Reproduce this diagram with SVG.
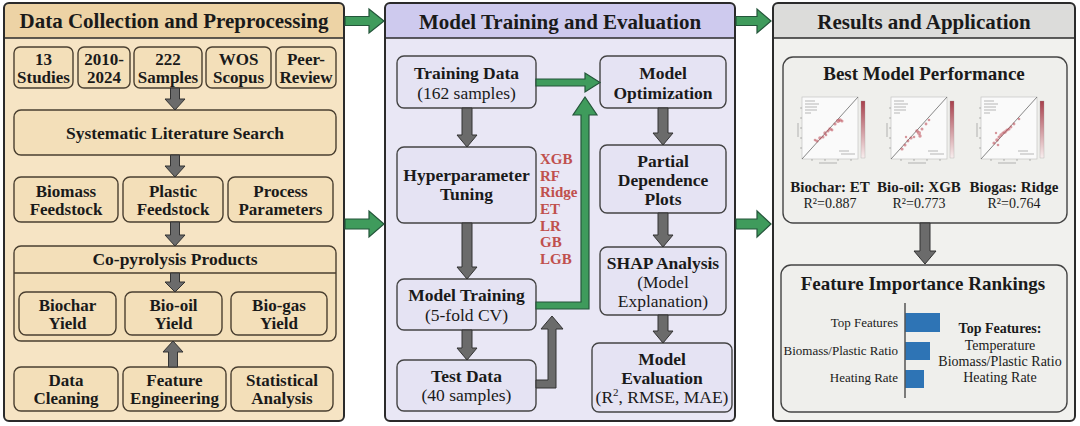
<svg xmlns="http://www.w3.org/2000/svg" width="1080" height="426" viewBox="0 0 1080 426">
<defs>
<style>
text{font-family:'Liberation Serif','DejaVu Serif',serif;fill:#1a1a1a}
.hd{font-size:21px;font-weight:bold;text-anchor:middle}
.b{font-size:17px;font-weight:bold;text-anchor:middle}
.b18{font-size:17.5px;font-weight:bold;text-anchor:middle}
.r18{font-size:17.5px;text-anchor:middle}
.t19{font-size:19px;font-weight:bold;text-anchor:middle}
.red{font-size:15px;font-weight:bold;fill:#C0504D}
.lb{font-size:15px;font-weight:bold;text-anchor:middle}
.r14{font-size:14px;text-anchor:middle}
.fl{font-size:13px;text-anchor:end}
.pan{fill:none;stroke:#2b2b2b;stroke-width:2}
.lbx{fill:#F3DFB9;stroke:#4a3f30;stroke-width:1.4}
.mbx{fill:#E5E3F3;stroke:#444;stroke-width:1.4}
.rbx{fill:#EFEFEC;stroke:#444;stroke-width:1.4}
.ga{fill:#6B6B6B;stroke:#333;stroke-width:1}
.gr{fill:#3F9B5C;stroke:#24553A;stroke-width:1.2}
.dot{fill:#B9434F;fill-opacity:0.55}
</style>
<linearGradient id="cbar" x1="0" y1="0" x2="0" y2="1">
<stop offset="0" stop-color="#A8404C"/>
<stop offset="1" stop-color="#F8EEEE"/>
</linearGradient>
<g id="chartbase">
<rect x="7" y="4" width="56" height="62" fill="#FAFAFA" stroke="#BDBDBD" stroke-width="0.6"/>
<line x1="7" y1="66" x2="63" y2="4" stroke="#555" stroke-width="0.7"/>
<rect x="66" y="8" width="4" height="57" fill="url(#cbar)" stroke="#999" stroke-width="0.3"/>
<path d="M10,8 h10 M10,11 h14 M10,14 h12 M10,17 h12 M10,20 h6 M44,58 h10 M46,61 h14 M3,30 v14 M24,70 h18" stroke="#9a9a9a" stroke-width="0.7"/>
<path d="M7,15 h-2 M7,25 h-2 M7,35 h-2 M7,45 h-2 M7,55 h-2 M17,66 v2 M30,66 v2 M43,66 v2 M56,66 v2" stroke="#777" stroke-width="0.5"/>
</g>
</defs>

<rect width="1080" height="426" fill="#FFFFFF"/>

<!-- Panel 1 -->
<g id="panel-data">
<rect x="4" y="3" width="340" height="418" rx="5" fill="#F6E4C4"/>
<path d="M4,38 V8 Q4,3 9,3 H339 Q344,3 344,8 V38 Z" fill="#EDD3A5"/>
<rect x="4" y="3" width="340" height="418" rx="5" class="pan"/>
<line x1="4" y1="38" x2="344" y2="38" stroke="#2b2b2b" stroke-width="1.6"/>
<text class="hd" x="174" y="28">Data Collection and Preprocessing</text>
</g>

<g id="n-studies"><rect class="lbx" x="14" y="47" width="59" height="41" rx="6"/><text class="b" x="43.5" y="65">13</text><text class="b" x="43.5" y="83">Studies</text></g>
<g id="n-years"><rect class="lbx" x="78" y="47" width="52" height="41" rx="6"/><text class="b" x="104" y="65">2010-</text><text class="b" x="104" y="83">2024</text></g>
<g id="n-samples"><rect class="lbx" x="134" y="47" width="68" height="41" rx="6"/><text class="b" x="168" y="65">222</text><text class="b" x="168" y="83">Samples</text></g>
<g id="n-wos"><rect class="lbx" x="206" y="47" width="65" height="41" rx="6"/><text class="b" x="238.5" y="65">WOS</text><text class="b" x="238.5" y="83">Scopus</text></g>
<g id="n-peer"><rect class="lbx" x="276" y="47" width="60" height="41" rx="6"/><text class="b" x="306" y="65">Peer-</text><text class="b" x="306" y="83">Review</text></g>

<g id="n-search"><rect class="lbx" x="14" y="110" width="322" height="45" rx="7"/><text class="b18" x="175" y="139">Systematic Literature Search</text></g>

<g id="n-biomass"><rect class="lbx" x="14" y="177" width="104" height="45" rx="7"/><text class="b" x="66" y="197">Biomass</text><text class="b" x="66" y="215">Feedstock</text></g>
<g id="n-plastic"><rect class="lbx" x="123" y="177" width="100" height="45" rx="7"/><text class="b" x="173" y="197">Plastic</text><text class="b" x="173" y="215">Feedstock</text></g>
<g id="n-process"><rect class="lbx" x="228" y="177" width="105" height="45" rx="7"/><text class="b" x="280.5" y="197">Process</text><text class="b" x="280.5" y="215">Parameters</text></g>

<g id="n-products"><rect class="lbx" x="14" y="246" width="322" height="95" rx="7"/><line x1="14" y1="273" x2="336" y2="273" stroke="#4a3f30" stroke-width="1.4"/><text class="b18" x="175" y="265">Co-pyrolysis Products</text></g>
<g id="n-biochar"><rect class="lbx" x="19" y="292" width="97" height="43" rx="7"/><text class="b" x="67.5" y="311">Biochar</text><text class="b" x="67.5" y="329">Yield</text></g>
<g id="n-biooil"><rect class="lbx" x="125" y="292" width="97" height="43" rx="7"/><text class="b" x="173.5" y="311">Bio-oil</text><text class="b" x="173.5" y="329">Yield</text></g>
<g id="n-biogas"><rect class="lbx" x="231" y="292" width="96" height="43" rx="7"/><text class="b" x="279" y="311">Bio-gas</text><text class="b" x="279" y="329">Yield</text></g>

<g id="n-cleaning"><rect class="lbx" x="14" y="367" width="104" height="44" rx="7"/><text class="b" x="66" y="386">Data</text><text class="b" x="66" y="404">Cleaning</text></g>
<g id="n-feature"><rect class="lbx" x="123" y="367" width="103" height="44" rx="7"/><text class="b" x="174.5" y="386">Feature</text><text class="b" x="174.5" y="404">Engineering</text></g>
<g id="n-stats"><rect class="lbx" x="231" y="367" width="102" height="44" rx="7"/><text class="b" x="282" y="386">Statistical</text><text class="b" x="282" y="404">Analysis</text></g>

<!-- Panel 2 -->
<g id="panel-model">
<rect x="385" y="3" width="350" height="418" rx="5" fill="#E9E7F5"/>
<path d="M385,38 V8 Q385,3 390,3 H730 Q735,3 735,8 V38 Z" fill="#CECAEE"/>
<rect x="385" y="3" width="350" height="418" rx="5" class="pan"/>
<line x1="385" y1="38" x2="735" y2="38" stroke="#2b2b2b" stroke-width="1.6"/>
<text class="hd" x="560" y="29">Model Training and Evaluation</text>
</g>

<g id="n-train"><rect class="mbx" x="397" y="56" width="139" height="52" rx="7"/><text class="b18" x="466.5" y="79">Training Data</text><text class="r18" x="466.5" y="99">(162 samples)</text></g>
<g id="n-hyper"><rect class="mbx" x="397" y="147" width="139" height="76" rx="7"/><text class="b18" x="466.5" y="181">Hyperparameter</text><text class="b18" x="466.5" y="200">Tuning</text></g>
<g id="n-models">
<text class="red" x="540" y="164">XGB</text>
<text class="red" x="540" y="181">RF</text>
<text class="red" x="540" y="197">Ridge</text>
<text class="red" x="540" y="214">ET</text>
<text class="red" x="540" y="231">LR</text>
<text class="red" x="540" y="247">GB</text>
<text class="red" x="540" y="264">LGB</text>
</g>
<g id="n-mtrain"><rect class="mbx" x="397" y="279" width="139" height="51" rx="7"/><text class="b18" x="466.5" y="301">Model Training</text><text class="r18" x="466.5" y="321">(5-fold CV)</text></g>
<g id="n-test"><rect class="mbx" x="397" y="360" width="139" height="51" rx="7"/><text class="b18" x="466.5" y="382">Test Data</text><text class="r18" x="466.5" y="401">(40 samples)</text></g>
<g id="n-opt"><rect class="mbx" x="600" y="56" width="126" height="52" rx="7"/><text class="b18" x="663" y="79">Model</text><text class="b18" x="663" y="99">Optimization</text></g>
<g id="n-pdp"><rect class="mbx" x="600" y="145" width="126" height="68" rx="7"/><text class="b18" x="663" y="167">Partial</text><text class="b18" x="663" y="186">Dependence</text><text class="b18" x="663" y="205">Plots</text></g>
<g id="n-shap"><rect class="mbx" x="600" y="247" width="126" height="68" rx="7"/><text class="b18" x="663" y="269">SHAP Analysis</text><text class="r18" x="663" y="288">(Model</text><text class="r18" x="663" y="307">Explanation)</text></g>
<g id="n-eval"><rect class="mbx" x="592" y="343" width="140" height="69" rx="7"/><text class="b18" x="662" y="365">Model</text><text class="b18" x="662" y="384">Evaluation</text><text class="r18" x="662" y="403">(R<tspan font-size="11" dy="-7">2</tspan><tspan dy="7">, RMSE, MAE)</tspan></text></g>

<!-- Panel 3 -->
<g id="panel-results">
<rect x="773" y="3" width="302" height="418" rx="5" fill="#F1F1EE"/>
<path d="M773,38 V8 Q773,3 778,3 H1070 Q1075,3 1075,8 V38 Z" fill="#DCDCDA"/>
<rect x="773" y="3" width="302" height="418" rx="5" class="pan"/>
<line x1="773" y1="38" x2="1075" y2="38" stroke="#2b2b2b" stroke-width="1.6"/>
<text class="hd" x="924" y="29">Results and Application</text>
</g>

<g id="n-best">
<rect class="rbx" x="783" y="57" width="284" height="166" rx="10"/>
<text class="t19" x="924" y="80">Best Model Performance</text>
<g transform="translate(795,93)">
<use href="#chartbase"/>
<circle class="dot" cx="22" cy="48" r="1.6"/><circle class="dot" cx="25" cy="45" r="1.8"/><circle class="dot" cx="28" cy="44" r="1.5"/><circle class="dot" cx="30" cy="40" r="1.7"/><circle class="dot" cx="33" cy="38" r="1.5"/><circle class="dot" cx="35" cy="36" r="1.8"/><circle class="dot" cx="37" cy="37" r="1.4"/><circle class="dot" cx="40" cy="31" r="1.6"/><circle class="dot" cx="43" cy="28" r="2"/><circle class="dot" cx="45" cy="27" r="1.8"/><circle class="dot" cx="47" cy="28" r="1.5"/><circle class="dot" cx="20" cy="47" r="1.3"/><circle class="dot" cx="31" cy="42" r="1.3"/>
</g>
<g transform="translate(884,93)">
<use href="#chartbase"/>
<circle class="dot" cx="18" cy="56" r="1.6"/><circle class="dot" cx="21" cy="52" r="1.5"/><circle class="dot" cx="24" cy="48" r="1.4"/><circle class="dot" cx="27" cy="45" r="1.6"/><circle class="dot" cx="30" cy="44" r="1.3"/><circle class="dot" cx="33" cy="38" r="1.8"/><circle class="dot" cx="35" cy="40" r="2"/><circle class="dot" cx="36" cy="43" r="1.7"/><circle class="dot" cx="38" cy="36" r="1.5"/><circle class="dot" cx="42" cy="31" r="1.4"/><circle class="dot" cx="45" cy="27" r="1.3"/><circle class="dot" cx="22" cy="44" r="1.2"/>
</g>
<g transform="translate(974,93)">
<use href="#chartbase"/>
<circle class="dot" cx="20" cy="50" r="1.6"/><circle class="dot" cx="23" cy="47" r="1.8"/><circle class="dot" cx="25" cy="44" r="1.5"/><circle class="dot" cx="27" cy="42" r="1.7"/><circle class="dot" cx="29" cy="40" r="1.6"/><circle class="dot" cx="31" cy="39" r="1.8"/><circle class="dot" cx="33" cy="37" r="1.6"/><circle class="dot" cx="35" cy="36" r="1.5"/><circle class="dot" cx="37" cy="34" r="1.4"/><circle class="dot" cx="40" cy="31" r="1.4"/><circle class="dot" cx="45" cy="26" r="1.3"/><circle class="dot" cx="24" cy="52" r="1.3"/><circle class="dot" cx="22" cy="40" r="1.2"/>
</g>
<text class="lb" x="830" y="192">Biochar: ET</text>
<text class="lb" x="919" y="192">Bio-oil: XGB</text>
<text class="lb" x="1014" y="192">Biogas: Ridge</text>
<text class="r14" x="830" y="208">R²=0.887</text>
<text class="r14" x="919" y="208">R²=0.773</text>
<text class="r14" x="1014" y="208">R²=0.764</text>
</g>

<g id="n-features">
<rect class="rbx" x="781" y="265" width="286" height="147" rx="10"/>
<text class="t19" x="923" y="290">Feature Importance  Rankings</text>
<rect x="905" y="313" width="35" height="19" fill="#2E74B5"/>
<rect x="905" y="342" width="25" height="18" fill="#2E74B5"/>
<rect x="905" y="370" width="19" height="18" fill="#2E74B5"/>
<line x1="905" y1="303" x2="905" y2="398" stroke="#555" stroke-width="1.5"/>
<text class="fl" x="898" y="327">Top Features</text>
<text class="fl" x="898" y="355">Biomass/Plastic Ratio</text>
<text class="fl" x="898" y="382">Heating Rate</text>
<text x="1000" y="333" font-size="14" font-weight="bold" text-anchor="middle">Top Features:</text>
<text class="r14" x="1000" y="350">Temperature</text>
<text class="r14" x="1000" y="366">Biomass/Plastic Ratio</text>
<text class="r14" x="1000" y="382">Heating Rate</text>
</g>

<!-- Connectors -->
<g id="connectors">
<polygon class="ga" points="170.5,88 179.5,88 179.5,99 185,99 175,110 165,99 170.5,99"/>
<polygon class="ga" points="170.5,155 179.5,155 179.5,166 185,166 175,177 165,166 170.5,166"/>
<polygon class="ga" points="170.5,222 179.5,222 179.5,235 185,235 175,246 165,235 170.5,235"/>
<polygon class="ga" points="170.5,273 179.5,273 179.5,282 185,282 175,292 165,282 170.5,282"/>
<polygon class="ga" points="168.5,367 177.5,367 177.5,352 183,352 173,341 163,352 168.5,352"/>
<polygon class="ga" points="462,108 472,108 472,135 477,135 467,147 457,135 462,135"/>
<polygon class="ga" points="462,223 472,223 472,267 477,267 467,279 457,267 462,267"/>
<polygon class="ga" points="462,330 472,330 472,348 477,348 467,360 457,348 462,348"/>
<polygon class="ga" points="658,108 668,108 668,133 673,133 663,145 653,133 658,133"/>
<polygon class="ga" points="658,213 668,213 668,235 673,235 663,247 653,235 658,235"/>
<polygon class="ga" points="658,315 668,315 668,331 673,331 663,343 653,331 658,331"/>
<polygon class="ga" points="536,380 548,380 548,329 541,329 552,316 563,329 556,329 556,388 536,388"/>
<polygon class="ga" points="920,223 930,223 930,251 936,251 925,264 914,251 920,251"/>
<polygon class="gr" points="536,79 585,79 585,73 600,82.5 585,92 585,86 536,86"/>
<polygon class="gr" points="536,302 581,302 581,115 573,115 585,97 597,115 589,115 589,309 536,309"/>
<polygon class="gr" points="345,16.5 369,16.5 369,9 384,21 369,33 369,25.5 345,25.5"/>
<polygon class="gr" points="345,219 369,219 369,211 384,224 369,237 369,229 345,229"/>
<polygon class="gr" points="736,16.5 757,16.5 757,9 771,21 757,33 757,25.5 736,25.5"/>
<polygon class="gr" points="736,219 757,219 757,211 771,224 757,237 757,229 736,229"/>
</g>
</svg>
